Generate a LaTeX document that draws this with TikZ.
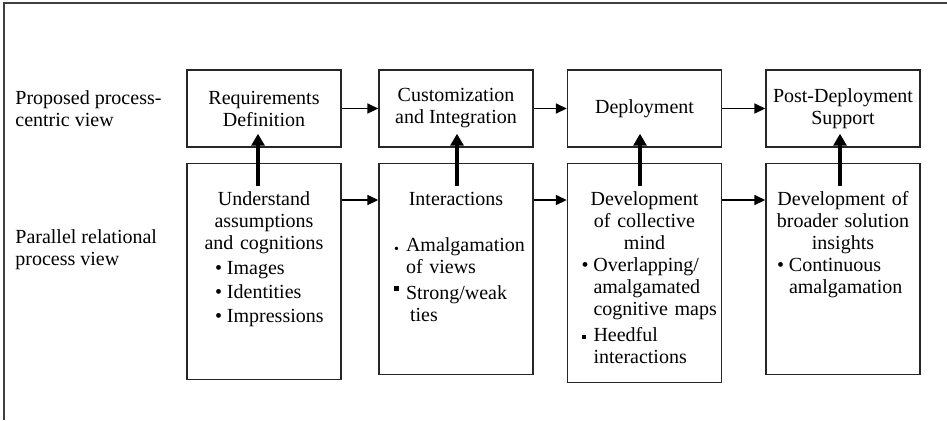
\documentclass[tikz,border=0pt]{standalone}
\usepackage{fontspec}
\setmainfont{Liberation Serif}
\usetikzlibrary{arrows.meta}

\begin{document}
\begin{tikzpicture}[y=-0.5pt,x=0.5pt,
	font=\fontsize{10pt}{11pt}\selectfont,
	stage/.style={draw=black!85, line width=0.7pt, minimum width=77pt, minimum height=38.5pt, align=center, inner sep=1pt},
	relation/.style={draw=black!85, line width=0.7pt, minimum width=77pt, text width=74pt, inner xsep=1.5pt, inner ysep=14pt, text height=7pt, align=center, anchor=north},
	view/.style={anchor=west, align=left, inner sep=0pt},
	flow/.style={line width=0.8pt, -{Triangle[length=5.5pt,width=5pt]}},
	feed/.style={line width=2.2pt, -{Triangle[length=6pt,width=6.5pt]}}]
	\newcommand\Bullets[1]{\par\raggedright\leftskip=#1\relax}
	\newcommand\Item[2][\textbullet]{\par\vspace{1pt}\makebox[6pt][l]{#1}\begin{tabular}[t]{@{}l@{}}#2\end{tabular}\par}

	\useasboundingbox (0,0) rectangle (947,420);
	\draw[line width=0.8pt, black!75] (4,420) -- (4,3) -- (947,3);

	\node[view] (proposed) at (15,109) {Proposed process-\\centric view};
	\node[view] (parallel) at (15,250) {Parallel relational\\process view};

	\node[stage] (t1) at (264,108.5) {Requirements\\Definition};
	\node[stage] (t2) at (456,108.5) {Customization\\and Integration};
	\node[stage] (t3) at (644.5,108.5) {Deployment};
	\node[stage] (t4) at (843,108.5) {Post-Deployment\\Support};

	\node[relation, text depth=73pt] (l1) at (264,163) {Understand\\assumptions\\and cognitions\Bullets{12.5pt}\vspace{0.5pt}\Item{Images}\Item{Identities}\Item{Impressions}};
	\node[relation, text depth=70.5pt] (l2) at (456,163) {Interactions\Bullets{6pt}\vspace{11pt}\Item[\raisebox{-0.8pt}{\scalebox{0.7}{\textbullet}}]{Amalgamation\\of views}\Item[\raisebox{4.5pt}{\rule{2.5pt}{2.5pt}}]{Strong/weak\\\hspace*{2pt}ties}};
	\node[relation, text depth=74.5pt] (l3) at (644.5,163) {Development\\of collective\\mind\Bullets{5.5pt}\vspace{-1pt}\Item{Overlapping/\\amalgamated\\cognitive maps}\Item[\raisebox{1.5pt}{\rule{2pt}{2pt}}]{Heedful\\interactions}};
	\node[relation, text depth=70.5pt] (l4) at (843,163) {Development of\\broader solution\\insights\Bullets{4pt}\vspace{-1pt}\Item{Continuous\\amalgamation}};

	\draw[flow] (t1) -- (t2);
	\draw[flow] (t2) -- (t3);
	\draw[flow] (t3) -- (t4);

	\draw[flow] ([yshift=-18.5pt]l1.north east) -- ([yshift=-18.5pt]l2.north west);
	\draw[flow] ([yshift=-18.5pt]l2.north east) -- ([yshift=-18.5pt]l3.north west);
	\draw[flow] ([yshift=-18.5pt]l3.north east) -- ([yshift=-18.5pt]l4.north west);

	\draw[feed] ([xshift=-3pt,yshift=-11.5pt]l1.north) -- ([xshift=-3pt,yshift=7pt]t1.south);
	\draw[feed] ([xshift=0.5pt,yshift=-11.5pt]l2.north) -- ([xshift=0.5pt,yshift=7pt]t2.south);
	\draw[feed] ([xshift=-2.25pt,yshift=-11.5pt]l3.north) -- ([xshift=-2.25pt,yshift=7pt]t3.south);
	\draw[feed] ([xshift=-1.5pt,yshift=-11.5pt]l4.north) -- ([xshift=-1.5pt,yshift=7pt]t4.south);
\end{tikzpicture}
\end{document}
